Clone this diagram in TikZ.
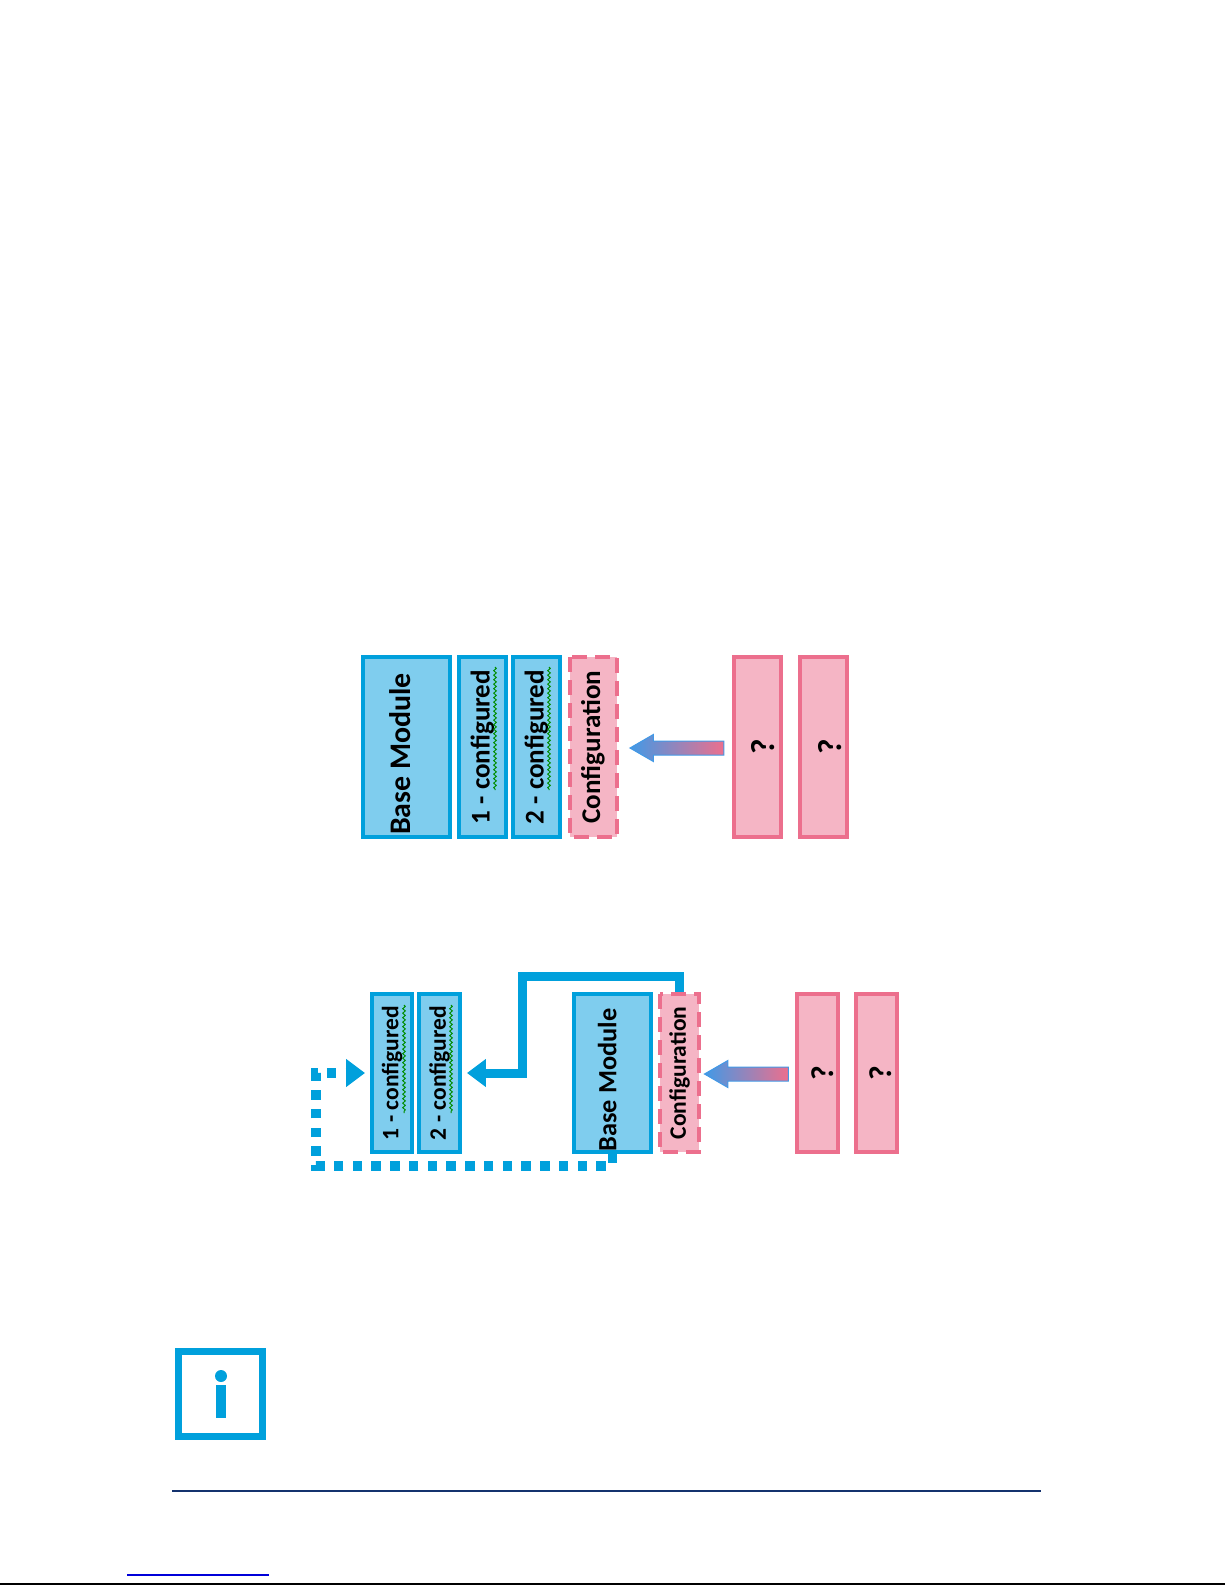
\documentclass[tikz,border=0pt]{standalone}
\usepackage{fontspec}
\setmainfont{Carlito}
\usetikzlibrary{arrows.meta,shapes.arrows,decorations.pathmorphing}
\definecolor{modline}{HTML}{00A0DC}
\definecolor{modfill}{HTML}{7FCDEE}
\definecolor{cfgline}{HTML}{EC6F8D}
\definecolor{cfgfill}{HTML}{F5B5C5}
\definecolor{arrowblue}{HTML}{4299E6}
\tikzstyle{basefont} = [font=\fontsize{17}{20}\selectfont\bfseries]
\tikzstyle{bigfont} = [font=\fontsize{15.4}{18}\selectfont\bfseries]
\tikzstyle{smallfont} = [font=\fontsize{13.4}{16}\selectfont\bfseries]
\tikzstyle{modbox} = [draw=modline,fill=modfill,line width=.08cm,rotate=90,inner sep=0pt,text=black]
\tikzstyle{cfgbox} = [draw=cfgline,fill=cfgfill,line width=.08cm,rotate=90,inner sep=0pt,text=black,dash pattern=on .3cm off .16cm]
\tikzstyle{askbox} = [draw=cfgline,fill=cfgfill,line width=.08cm,rotate=90,inner sep=0pt,text=black,font=\fontsize{19}{22}\selectfont\bfseries]
\tikzstyle{push} = [single arrow,shape border rotate=180,draw=arrowblue,line width=.02cm,left color=arrowblue,right color=cfgline,inner sep=.13cm,minimum width=.54cm,single arrow head extend=.13cm,single arrow tip angle=60]
\tikzstyle{link} = [draw=modline,line width=.18cm,-{Triangle[length=.38cm,width=.54cm]}]
\tikzstyle{squiggle} = [draw=green!55!black,line width=.02cm,decorate,decoration={snake,amplitude=.025cm,segment length=.09cm}]

\begin{document}
\begin{tikzpicture}[x=.02cm,y=-.02cm]
\useasboundingbox (0,0) rectangle (1225,1585);

\node[modbox,basefont,minimum width=3.6cm,minimum height=1.74cm] (tbase) at (406.5,747) {\raisebox{7pt}{\makebox[0pt]{Base Module\hspace*{8pt}}}};
\node[modbox,bigfont,minimum width=3.6cm,minimum height=.94cm] (tone) at (482.5,747) {1 - configured};
\node[modbox,bigfont,minimum width=3.6cm,minimum height=.94cm] (ttwo) at (536.5,747) {2 - configured};
\node[cfgbox,bigfont,minimum width=3.6cm,minimum height=.94cm] (tcfg) at (593,747) {Configuration};
\node[askbox,minimum width=3.6cm,minimum height=.94cm] (task1) at (757,747) {\raisebox{-4pt}[12pt][0pt]{?}};
\node[askbox,minimum width=3.6cm,minimum height=.94cm] (task2) at (823.5,747) {\raisebox{-4pt}[12pt][0pt]{?}};
\node[push,minimum height=1.88cm] (tpush) at (683,748) {};
\draw[squiggle] (495,667) -- (495,790);
\draw[squiggle] (549,667) -- (549,790);

\node[modbox,smallfont,minimum width=3.16cm,minimum height=.8cm] (bone) at (392,1073) {1 - configured};
\node[modbox,smallfont,minimum width=3.16cm,minimum height=.82cm] (btwo) at (439.5,1073) {2 - configured};
\node[modbox,font=\fontsize{15}{18}\selectfont\bfseries,minimum width=3.16cm,minimum height=1.54cm] (bbase) at (612.5,1073) {\raisebox{6pt}{\makebox[0pt]{Base Module\hspace*{8pt}}}};
\node[cfgbox,smallfont,minimum width=3.16cm,minimum height=.78cm] (bcfg) at (679.5,1073) {Configuration};
\node[askbox,font=\fontsize{18}{21}\selectfont\bfseries,minimum width=3.16cm,minimum height=.82cm] (bask1) at (817.5,1073) {\raisebox{-3.5pt}[11pt][0pt]{?}};
\node[askbox,font=\fontsize{18}{21}\selectfont\bfseries,minimum width=3.16cm,minimum height=.82cm] (bask2) at (876,1073) {\raisebox{-3.5pt}[11pt][0pt]{?}};
\node[push,minimum height=1.68cm] (bpush) at (752.5,1074) {};
\draw[squiggle] (404,1005) -- (404,1113);
\draw[squiggle] (451,1005) -- (451,1113);

\coordinate (upleft) at (522,976);
\coordinate (upturn) at (522,1073);
\draw[link,shorten >=.1cm] (bcfg.east) |- (upleft) -- (upturn) -- (btwo.south);
\coordinate (lowleft) at (316,1166);
\coordinate (lowturn) at (316,1073);
\draw[link,line width=.19cm,dash pattern=on .19cm off .185cm,shorten >=.1cm] (bbase.west) |- (lowleft) -- (lowturn) -- (bone.north);

\node[draw=modline,line width=.14cm,minimum size=1.7cm,inner sep=0pt] (infobox) at (220.5,1394) {};
\fill[modline] (221,1376) circle (.12cm);
\fill[modline] (216,1385) rectangle (226,1418);

\coordinate (rulea) at (172,1491);
\coordinate (ruleb) at (1041,1491);
\draw[draw={rgb,255:red,20;green,50;blue,110},line width=.04cm] (rulea) -- (ruleb);
\coordinate (linka) at (127,1575);
\coordinate (linkb) at (269,1575);
\draw[draw=blue!85!black,line width=.03cm] (linka) -- (linkb);
\coordinate (edgea) at (0,1584);
\coordinate (edgeb) at (1225,1584);
\draw[black,line width=.04cm] (edgea) -- (edgeb);
\end{tikzpicture}
\end{document}
